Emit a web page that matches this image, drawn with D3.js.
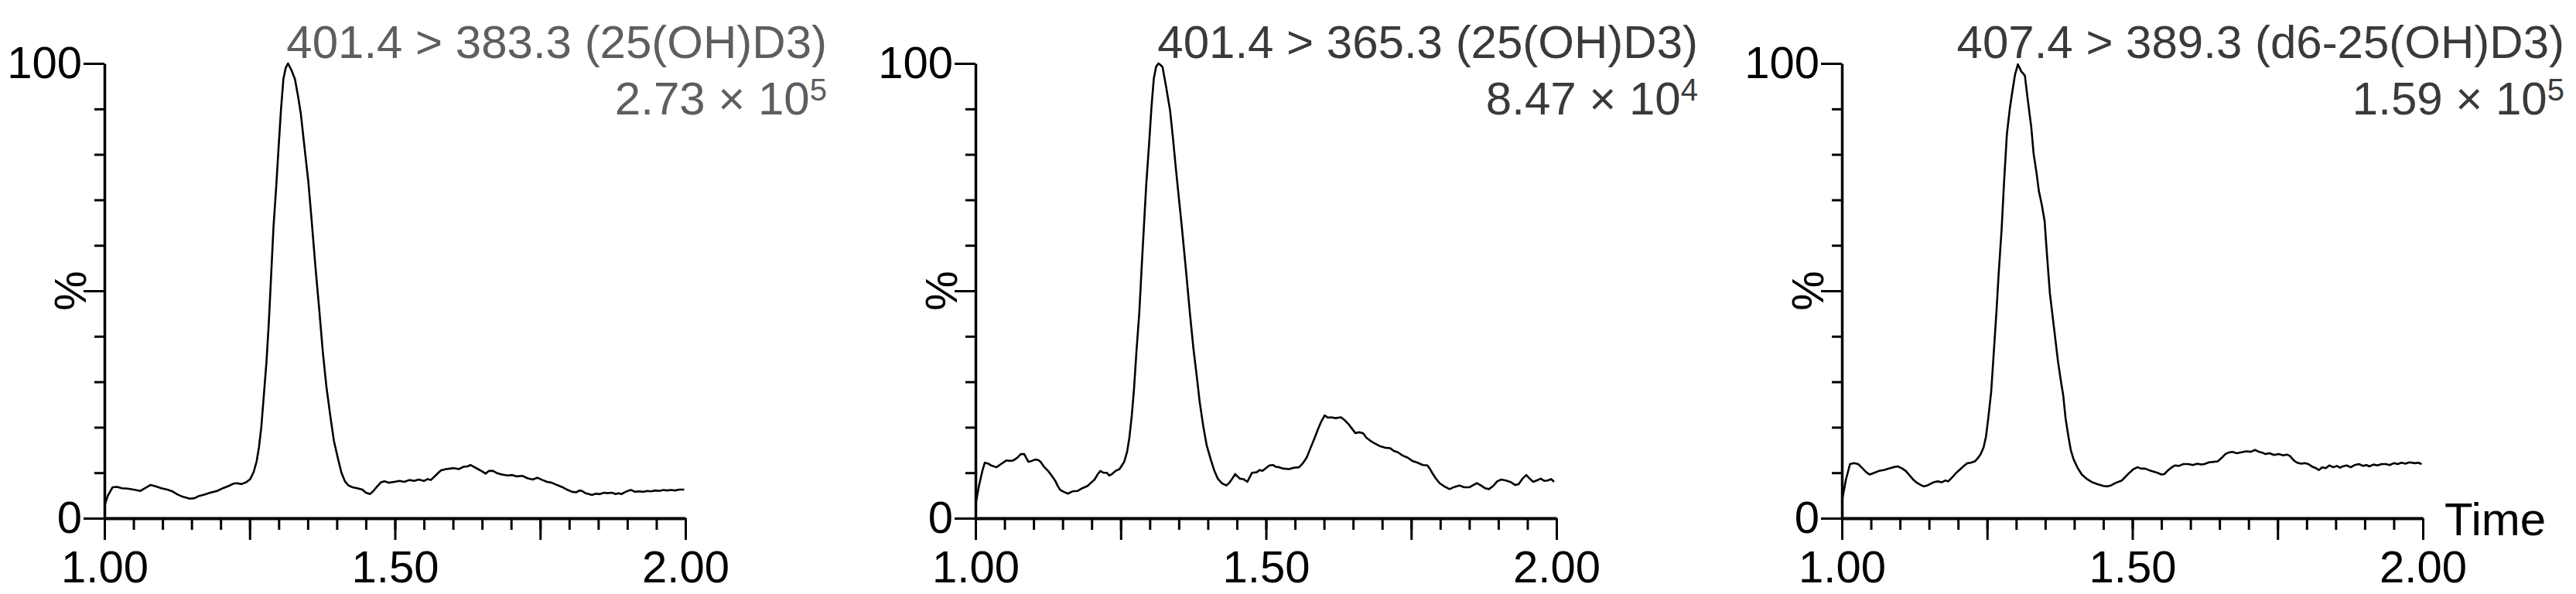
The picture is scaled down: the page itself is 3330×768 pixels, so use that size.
<!DOCTYPE html>
<html>
<head>
<meta charset="utf-8">
<script src="https://cdn.jsdelivr.net/npm/d3@7"></script>
<style>
  body { margin: 0; background: #fff; }
  svg text { font-family: "Liberation Sans", Arial, sans-serif; }
  .axis path, .axis line { stroke: #000; }
  .axis text { fill: #000; font-size: 58px; }
  .trace { fill: none; stroke: #000; stroke-width: 2.6; stroke-linejoin: round; }
</style>
</head>
<body>
<svg id="chart"></svg>
<script>
// Channel titles and base peak intensities
const titles = ['401.4 > 383.3 (25(OH)D3)', '401.4 > 365.3 (25(OH)D3)', '407.4 > 389.3 (d6-25(OH)D3)'];
const intensityBase = ['2.73', '8.47', '1.59'];
const intensityExp = ['5', '4', '5'];
const xTickLabels = [1.00, 1.50, 2.00];
const yTickLabels = [0, 100];

// Traces: [time (min), relative intensity (%)]
const trace1 = [[1.000,2.7],[1.006,5.0],[1.014,6.8],[1.022,6.9],[1.030,6.6],[1.040,6.5],[1.050,6.3],[1.062,6.0],[1.070,6.6],[1.079,7.3],[1.088,7.0],[1.098,6.6],[1.108,6.3],[1.117,5.9],[1.126,5.2],[1.135,4.7],[1.147,4.3],[1.155,4.4],[1.163,4.9],[1.172,5.2],[1.182,5.6],[1.194,6.0],[1.204,6.6],[1.214,7.1],[1.222,7.6],[1.228,7.7],[1.236,7.5],[1.244,7.9],[1.251,8.6],[1.257,10.2],[1.262,12.5],[1.266,15.6],[1.270,20.0],[1.274,26.4],[1.279,34.5],[1.283,43.1],[1.287,53.5],[1.291,64.0],[1.296,73.5],[1.300,82.0],[1.304,90.0],[1.308,96.5],[1.312,99.0],[1.316,100],[1.322,98.5],[1.328,96.5],[1.333,93.0],[1.338,89.0],[1.344,82.0],[1.351,74.0],[1.357,65.0],[1.363,55.6],[1.370,45.5],[1.376,36.4],[1.382,29.0],[1.389,22.3],[1.395,17.0],[1.402,13.1],[1.408,10.0],[1.414,8.1],[1.420,7.2],[1.427,6.8],[1.435,6.6],[1.444,6.3],[1.450,5.6],[1.457,5.3],[1.463,6.0],[1.469,6.9],[1.476,7.9],[1.482,8.1],[1.490,7.8],[1.499,8.0],[1.508,8.2],[1.516,8.0],[1.525,8.4],[1.533,8.2],[1.541,8.5],[1.550,8.2],[1.556,8.6],[1.562,8.4],[1.570,9.4],[1.579,10.5],[1.588,10.8],[1.595,10.9],[1.601,11.0],[1.610,10.8],[1.618,11.3],[1.625,11.4],[1.630,11.7],[1.636,11.3],[1.643,10.8],[1.650,10.3],[1.656,9.8],[1.662,10.4],[1.669,10.4],[1.676,9.9],[1.684,9.6],[1.694,9.4],[1.702,9.5],[1.710,9.2],[1.720,9.3],[1.728,8.8],[1.737,8.5],[1.745,8.9],[1.754,8.4],[1.762,8.0],[1.770,7.8],[1.779,7.3],[1.787,6.9],[1.796,6.3],[1.805,5.8],[1.812,5.7],[1.818,6.1],[1.822,6.0],[1.828,5.5],[1.834,5.3],[1.839,5.1],[1.846,5.4],[1.853,5.3],[1.860,5.6],[1.866,5.5],[1.873,5.6],[1.880,5.3],[1.885,5.5],[1.890,5.3],[1.897,5.8],[1.903,6.1],[1.907,6.2],[1.913,5.8],[1.920,5.9],[1.927,5.8],[1.934,6.0],[1.941,5.9],[1.948,6.1],[1.955,6.0],[1.962,6.2],[1.968,6.1],[1.975,6.2],[1.982,6.1],[1.990,6.3],[1.998,6.3]];

const trace2 = [[1.000,2.9],[1.006,7.1],[1.012,10.5],[1.016,12.2],[1.022,12.0],[1.027,11.6],[1.036,11.2],[1.044,11.9],[1.053,12.7],[1.060,12.6],[1.065,12.7],[1.072,13.3],[1.078,14.1],[1.084,14.1],[1.091,12.4],[1.097,12.6],[1.103,12.9],[1.108,12.8],[1.112,12.4],[1.118,11.3],[1.125,10.4],[1.131,9.4],[1.137,8.3],[1.142,7.0],[1.146,6.2],[1.152,5.8],[1.159,5.4],[1.167,5.9],[1.176,6.0],[1.184,6.6],[1.193,7.1],[1.199,7.8],[1.205,8.5],[1.210,9.6],[1.215,10.4],[1.220,10.0],[1.226,10.0],[1.230,9.4],[1.235,9.7],[1.241,10.4],[1.248,10.8],[1.252,11.6],[1.256,12.4],[1.261,14.6],[1.265,17.8],[1.269,22.5],[1.273,28.6],[1.277,36.5],[1.282,45.2],[1.286,55.0],[1.290,64.3],[1.294,73.5],[1.299,82.6],[1.303,90.5],[1.307,96.7],[1.311,99.3],[1.315,100],[1.319,99.6],[1.322,99.2],[1.328,95.0],[1.335,89.6],[1.340,83.5],[1.345,76.8],[1.350,70.5],[1.355,64.3],[1.362,55.0],[1.369,45.2],[1.375,37.5],[1.381,31.1],[1.386,25.5],[1.392,20.3],[1.398,16.0],[1.405,12.9],[1.411,10.5],[1.417,8.7],[1.424,7.7],[1.432,7.2],[1.437,7.8],[1.442,8.7],[1.447,9.7],[1.451,9.2],[1.455,8.7],[1.461,8.6],[1.468,8.0],[1.472,9.0],[1.476,10.0],[1.484,10.1],[1.489,10.6],[1.494,10.4],[1.500,11.0],[1.506,11.6],[1.512,11.7],[1.517,11.3],[1.523,11.2],[1.530,10.9],[1.540,10.8],[1.548,11.1],[1.557,11.2],[1.563,12.0],[1.570,13.3],[1.576,15.2],[1.583,17.4],[1.589,19.4],[1.595,21.2],[1.601,22.6],[1.607,22.1],[1.612,22.2],[1.620,22.0],[1.629,22.2],[1.636,21.5],[1.642,20.7],[1.648,19.7],[1.654,18.7],[1.660,18.9],[1.667,18.7],[1.673,17.7],[1.680,17.0],[1.688,16.4],[1.697,15.8],[1.705,15.5],[1.714,15.4],[1.720,14.8],[1.727,14.5],[1.735,13.8],[1.744,13.3],[1.752,12.6],[1.761,12.2],[1.770,11.7],[1.778,11.6],[1.782,10.9],[1.786,10.0],[1.792,8.8],[1.799,7.7],[1.807,7.0],[1.816,6.4],[1.825,6.9],[1.833,7.2],[1.841,6.8],[1.850,6.8],[1.857,7.3],[1.863,7.7],[1.870,7.2],[1.877,6.6],[1.884,6.4],[1.892,7.2],[1.898,8.1],[1.905,8.5],[1.913,8.3],[1.922,7.9],[1.929,7.3],[1.935,7.5],[1.941,8.6],[1.948,9.5],[1.954,8.7],[1.960,8.0],[1.966,8.3],[1.973,8.7],[1.979,8.2],[1.985,8.3],[1.991,8.6],[1.996,8.0]];

const trace3 = [[1.000,3.7],[1.007,8.5],[1.014,11.9],[1.021,12.1],[1.028,11.9],[1.036,10.9],[1.042,10.1],[1.048,9.6],[1.056,10.0],[1.064,10.4],[1.072,10.6],[1.080,10.9],[1.088,11.2],[1.096,11.4],[1.103,11.0],[1.110,10.4],[1.116,9.5],[1.122,8.6],[1.128,7.9],[1.136,7.3],[1.141,7.0],[1.147,7.2],[1.153,7.6],[1.158,7.9],[1.165,8.1],[1.172,7.9],[1.178,8.3],[1.183,8.1],[1.190,9.0],[1.197,10.0],[1.204,10.8],[1.210,11.5],[1.216,12.1],[1.222,12.2],[1.229,12.5],[1.234,13.2],[1.239,14.1],[1.244,15.6],[1.248,17.9],[1.252,22.0],[1.257,27.8],[1.261,35.5],[1.266,45.3],[1.270,54.0],[1.275,63.6],[1.279,73.5],[1.284,84.4],[1.289,90.0],[1.294,94.3],[1.298,97.5],[1.303,99.8],[1.306,99.0],[1.309,98.2],[1.312,97.8],[1.315,97.3],[1.320,92.0],[1.326,86.0],[1.330,80.2],[1.335,76.0],[1.339,72.0],[1.344,69.0],[1.349,65.3],[1.353,58.0],[1.358,49.5],[1.365,42.0],[1.372,34.5],[1.376,31.0],[1.381,27.0],[1.385,22.0],[1.390,17.9],[1.394,15.0],[1.399,12.9],[1.406,11.0],[1.413,9.6],[1.422,8.6],[1.431,7.9],[1.440,7.5],[1.450,7.1],[1.457,7.0],[1.463,7.2],[1.472,7.8],[1.482,8.3],[1.488,9.1],[1.495,10.0],[1.502,10.8],[1.509,11.2],[1.515,10.9],[1.522,10.9],[1.532,10.4],[1.543,10.0],[1.550,9.6],[1.555,9.7],[1.562,10.6],[1.568,11.2],[1.573,11.6],[1.580,11.5],[1.588,11.9],[1.596,11.9],[1.604,11.7],[1.612,12.0],[1.618,11.8],[1.624,11.9],[1.632,12.3],[1.640,12.4],[1.647,12.5],[1.654,13.3],[1.660,14.1],[1.665,14.4],[1.672,14.6],[1.680,14.3],[1.688,14.5],[1.696,14.7],[1.704,14.6],[1.711,15.0],[1.718,14.6],[1.724,14.4],[1.729,14.1],[1.736,14.3],[1.744,13.9],[1.752,14.1],[1.760,13.8],[1.766,14.0],[1.771,13.7],[1.776,13.0],[1.780,12.5],[1.784,12.2],[1.790,12.0],[1.797,12.1],[1.803,11.9],[1.810,11.3],[1.816,11.0],[1.821,10.6],[1.827,11.2],[1.833,11.0],[1.839,11.6],[1.846,11.2],[1.852,11.5],[1.858,11.1],[1.862,11.4],[1.869,11.6],[1.876,11.2],[1.883,11.7],[1.890,11.9],[1.897,11.5],[1.903,11.7],[1.908,11.4],[1.915,11.8],[1.922,11.6],[1.929,11.9],[1.936,11.9],[1.943,11.7],[1.950,12.1],[1.957,11.9],[1.963,12.2],[1.970,12.0],[1.977,12.3],[1.986,12.1],[1.992,12.2],[1.998,11.9]];

const traces = [trace1, trace2, trace3];
const titleColors = ['#5e5e5e', '#3a3a3a', '#3a3a3a'];

const svg = d3.select('#chart')
    .attr('width', 3330)
    .attr('height', 768);

const panelLeft = [135, 1261, 2381];
const plotWidth = 751;
const plotTop = 82, plotBottom = 670;

const fmt = d3.format('.2f');

traces.forEach((trace, i) => {
    const g = svg.append('g')
        .attr('transform', `translate(${panelLeft[i]},0)`);

    const x = d3.scaleLinear().domain([1, 2]).range([0, plotWidth]);
    const y = d3.scaleLinear().domain([0, 100]).range([plotBottom, plotTop]);

    // minor x ticks every 0.05
    g.append('g')
        .attr('class', 'axis')
        .attr('transform', `translate(0,${plotBottom})`)
        .call(d3.axisBottom(x).tickValues(d3.range(0, 21).map(k => 1 + k * 0.05))
            .tickSize(15).tickSizeOuter(0).tickFormat(''))
        .call(a => a.selectAll('line').attr('stroke-width', 3))
        .call(a => a.select('.domain').attr('stroke-width', 4));

    // major x ticks every 0.25, labels at 1.00 / 1.50 / 2.00
    g.append('g')
        .attr('class', 'axis')
        .attr('transform', `translate(0,${plotBottom})`)
        .call(d3.axisBottom(x).tickValues([1, 1.25, 1.5, 1.75, 2])
            .tickSize(28).tickPadding(14).tickSizeOuter(0)
            .tickFormat(d => xTickLabels.some(v => Math.abs(v - d) < 1e-9) ? fmt(d) : ''))
        .call(a => a.selectAll('line').attr('stroke-width', 3))
        .call(a => a.select('.domain').remove());

    // minor y ticks every 10 %
    g.append('g')
        .attr('class', 'axis')
        .call(d3.axisLeft(y).tickValues(d3.range(0, 101, 10))
            .tickSize(13).tickSizeOuter(0).tickFormat(''))
        .call(a => a.selectAll('line').attr('stroke-width', 3))
        .call(a => a.select('.domain').attr('stroke-width', 3.5));

    // major y ticks at 0 / 50 / 100
    g.append('g')
        .attr('class', 'axis')
        .call(d3.axisLeft(y).tickValues([0, 50, 100])
            .tickSize(27).tickPadding(2).tickSizeOuter(0)
            .tickFormat(d => yTickLabels.includes(d) ? d : ''))
        .call(a => a.selectAll('line').attr('stroke-width', 3))
        .call(a => a.select('.domain').remove());

    g.append('text')
        .attr('transform', `translate(-24,${y(50)}) rotate(-90)`)
        .attr('text-anchor', 'middle')
        .attr('font-size', 58)
        .text('%');

    const line = d3.line()
        .x(d => x(d[0]))
        .y(d => y(d[1]));

    g.append('path')
        .datum(trace)
        .attr('class', 'trace')
        .attr('d', line);

    // channel label, right aligned
    g.append('text')
        .attr('x', 934)
        .attr('y', 75)
        .attr('text-anchor', 'end')
        .attr('font-size', 60)
        .attr('fill', titleColors[i])
        .text(titles[i]);

    const inten = g.append('text')
        .attr('x', 934)
        .attr('y', 148)
        .attr('text-anchor', 'end')
        .attr('font-size', 60)
        .attr('fill', titleColors[i]);
    inten.append('tspan').text(`${intensityBase[i]} × 10`);
    inten.append('tspan')
        .attr('font-size', 40)
        .attr('dy', -18)
        .text(intensityExp[i]);

    if (i === 2) {
        g.append('text')
            .attr('x', plotWidth + 28)
            .attr('y', 692)
            .attr('font-size', 60)
            .text('Time');
    }
});
</script>
</body>
</html>
